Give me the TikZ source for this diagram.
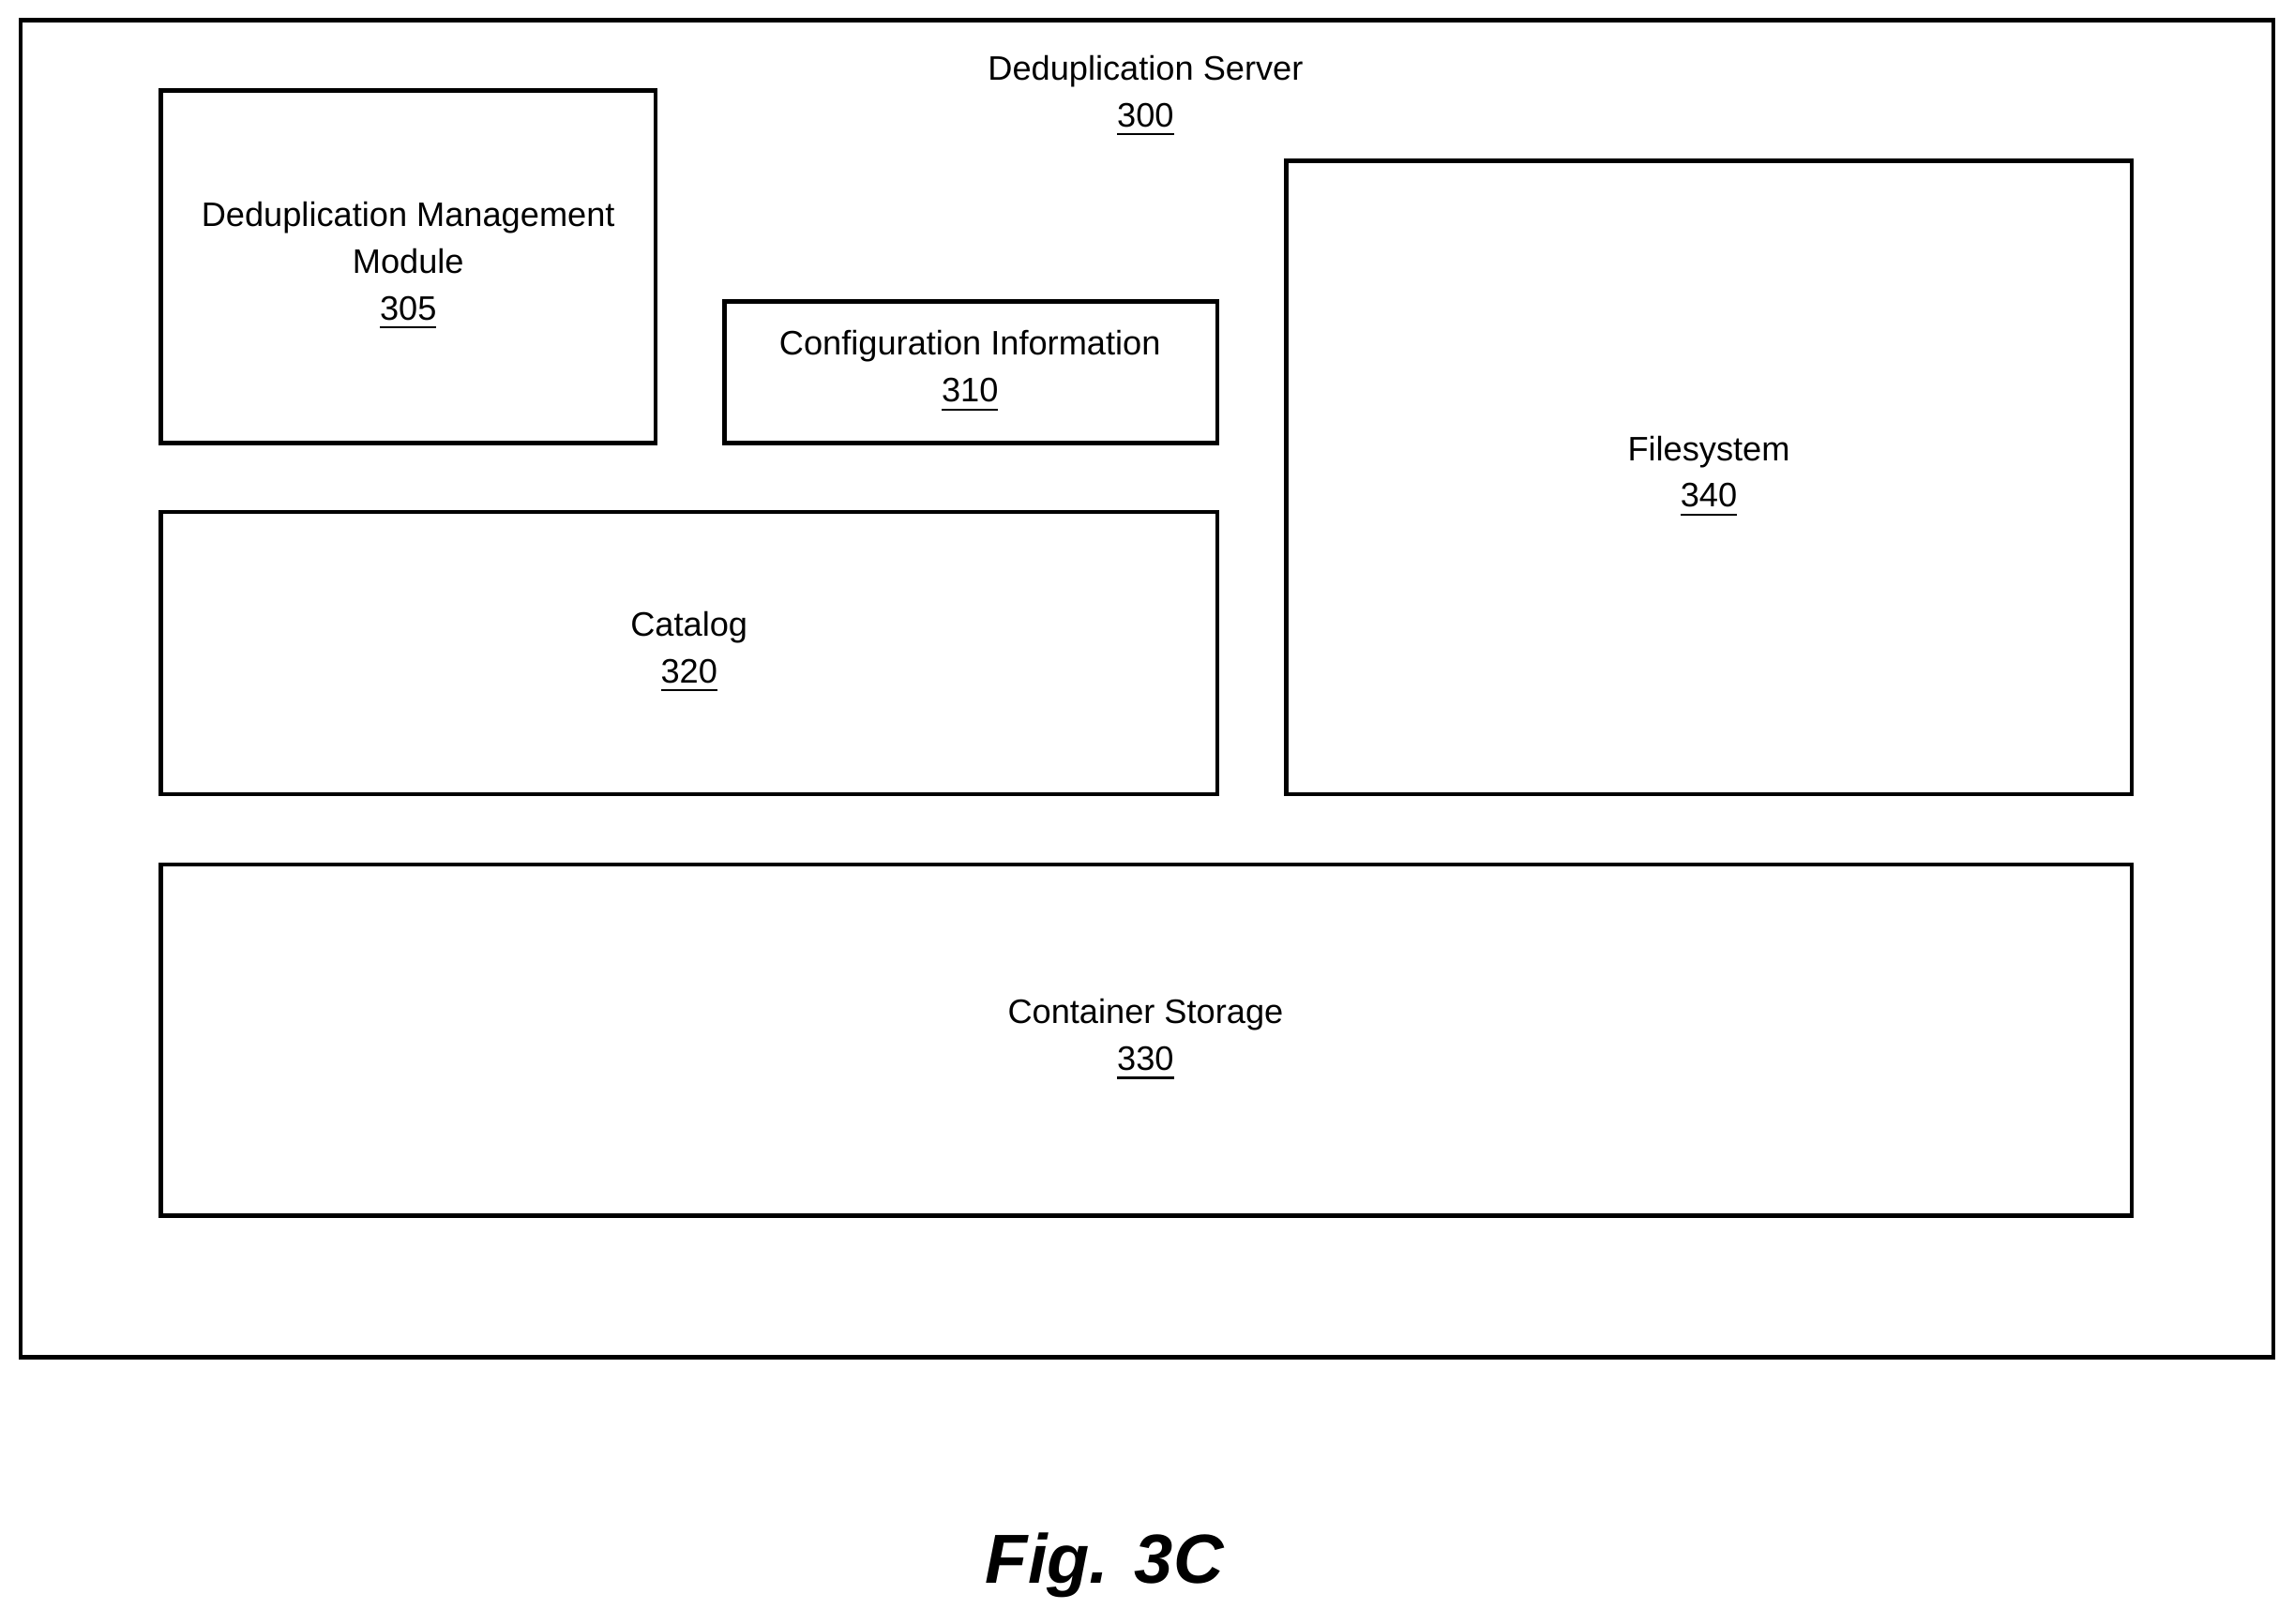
\documentclass[tikz,border=0pt]{standalone}
\usepackage{fontspec}
\setmainfont{Liberation Sans}
\begin{document}
\begin{tikzpicture}[x=0.01cm,y=-0.01cm,
  box/.style={draw,line width=0.85pt},
  lbl/.style={align=center,font=\fontsize{6.6pt}{9.1pt}\selectfont,inner sep=0pt}]
\useasboundingbox[fill=white] (0,0) rectangle (1568,1110);
\draw[box] (14,14) rectangle (1554,928);
\node[lbl] (srv) at (783,66) {Deduplication Server\\\underline{300}};
\draw[box] (110,62) rectangle (448,303);
\node[lbl] (dmm) at (279,182) {Deduplication Management\\Module\\\underline{305}};
\draw[box] (495,206) rectangle (832,303);
\node[lbl] (cfg) at (663,254) {Configuration Information\\\underline{310}};
\draw[box] (879,110) rectangle (1457,543);
\node[lbl] (fs) at (1168,326) {Filesystem\\\underline{340}};
\draw[box] (110,350) rectangle (832,543);
\node[lbl] (cat) at (471,446) {Catalog\\\underline{320}};
\draw[box] (110,591) rectangle (1457,831);
\node[lbl] (cs) at (783,711) {Container Storage\\\underline{330}};
\node[font=\fontsize{13.5pt}{16pt}\selectfont\bfseries\itshape,inner sep=0pt] (fig) at (755,1070) {Fig. 3C};
\end{tikzpicture}
\end{document}
